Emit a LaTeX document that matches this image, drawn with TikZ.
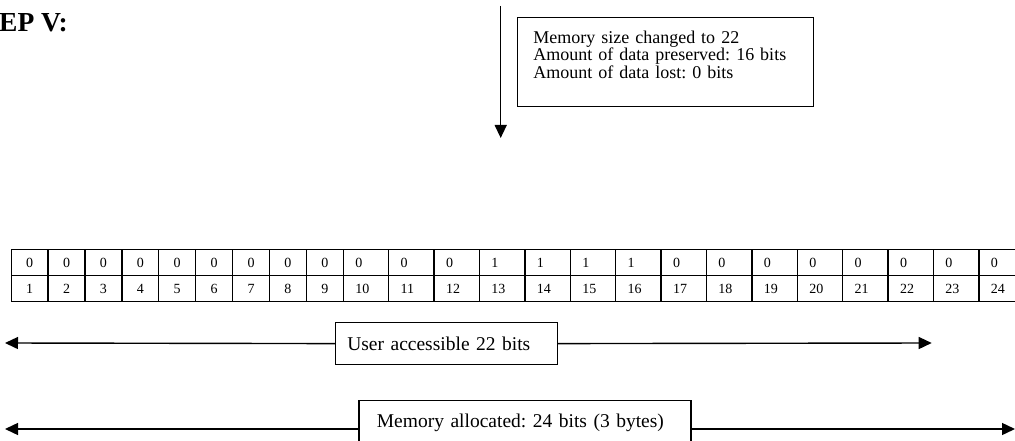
\documentclass[tikz,border=0pt]{standalone}
\usepackage{fontspec}
\setmainfont{Liberation Serif}
\usetikzlibrary{arrows.meta}
\frenchspacing
\begin{document}
\begin{tikzpicture}[x=1pt,y=-1pt,
  conn/.style={line width=1.4pt, -{Triangle[length=13pt,width=12pt]}},
  label box/.style={draw=black, line width=1.2pt, anchor=north west, align=left,
    font=\fontsize{19.5}{22}\selectfont},
  bitcell/.style={draw=black, line width=1.3pt, anchor=north west,
    minimum height=26pt, inner ysep=0pt, font=\fontsize{14}{16}\selectfont}
]
\useasboundingbox (0,0) rectangle (1015,441);
\clip (0,0) rectangle (1015,441);

% heading
\node[anchor=base west, inner sep=0pt, font=\bfseries\fontsize{27.5}{30}\selectfont]
  (title) at (-1,31.7) {EP V:};

% incoming arrow and status box
\coordinate (dsrc) at (500.7,6);
\coordinate (ddst) at (500.7,138);
\draw[conn] (dsrc) -- (ddst);
\node[draw=black, line width=1.2pt, anchor=north west, align=left,
  inner xsep=16pt, inner ysep=0pt, text width=264pt,
  text height=26pt, text depth=63pt,
  font=\fontsize{18}{15.5}\selectfont] (status) at (516.7,16.7)
  {Memory size changed to 22\\Amount of data preserved: 16 bits\\Amount of data lost: 0 bits};

% memory cells: bit values and positions
\foreach \i in {1,...,24}{
  \pgfmathtruncatemacro\v{and(\i>12,\i<17)}
  \ifnum\i<10
    \pgfmathsetmacro\xl{10.5+(\i-1)*36.9}
    \def\w{36.9}\def\pad{4}\def\al{center}
  \else
    \pgfmathsetmacro\xl{342.6+(\i-10)*45.4}
    \def\w{45.4}\def\pad{12}\def\al{left}
  \fi
  \pgfmathsetmacro\tw{\w-2*\pad}
  \node[bitcell, inner xsep=\pad pt, text width=\tw pt, align=\al] (b\i) at (\xl,249) {\v};
  \node[bitcell, inner xsep=\pad pt, text width=\tw pt, align=\al] (n\i) at (\xl,275) {\i};
}

% user accessible range
\node[label box, inner xsep=11.7pt, text width=198.6pt, minimum height=42pt]
  (user) at (335,322) {User accessible 22 bits};
\coordinate (ul) at (5,343);
\coordinate (ur) at (931.7,343);
\draw[conn] (user.west) -- (ul);
\draw[conn] (user.east) -- (ur);

% allocated range
\node[label box, inner xsep=18pt, text width=296pt, minimum height=44pt]
  (alloc) at (358.3,400) {Memory allocated: 24 bits (3 bytes)};
\coordinate (ml) at (5,429);
\coordinate (mr) at (1015,429);
\draw[conn] (alloc.west |- ml) -- (ml);
\draw[conn] (alloc.east |- mr) -- (mr);
\end{tikzpicture}
\end{document}
